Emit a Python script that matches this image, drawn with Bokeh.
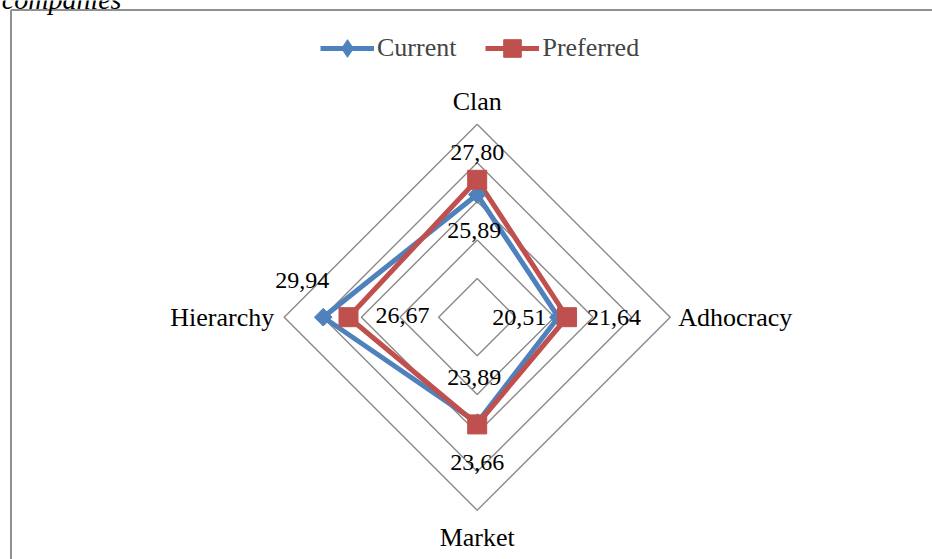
import numpy as np
from bokeh.plotting import figure
from bokeh.models import ColumnDataSource, Legend, LegendItem, Range1d
from bokeh.core.properties import value
from bokeh.embed import file_html
from bokeh.resources import INLINE

# ---- data ----
categories = ["Clan", "Adhocracy", "Market", "Hierarchy"]
current = [25.89, 20.51, 23.66, 29.94]
preferred = [27.80, 21.64, 23.89, 26.67]
axis_min, axis_max, major_unit = 10, 35, 5
caption = "of companies"

# ---- layout / style ----
W, H = 932, 559
S = 7.72                       # pixels per value unit
CX, CY = 476.7, 316.7          # centre, from top-left of the figure
FONT_NAME = "Liberation Serif"
FONT = value(FONT_NAME)
BLUE, RED, GRID = "#4F81BD", "#C0504D", "#8A8A8A"

x0, x1 = -CX / S, (W - CX) / S
y0, y1 = -(H - CY) / S, CY / S
p = figure(width=W, height=H, output_backend="svg", toolbar_location=None,
           x_range=Range1d(x0, x1), y_range=Range1d(y0, y1),
           x_axis_type=None, y_axis_type=None,
           min_border=0, outline_line_color=None)
p.grid.visible = False
p.background_fill_color = "white"
p.border_fill_color = "white"

angles = np.pi / 2 - np.arange(len(categories)) * np.pi / 2


def polar(vals):
    r = np.asarray(vals, dtype=float) - axis_min
    return r * np.cos(angles), r * np.sin(angles)


# chart border (left and top edges visible in the window)
bx, by = (10.5 - CX) / S, (CY - 9.5) / S
p.segment(x0=[bx, bx], y0=[y0 - 10, by], x1=[bx, x1 + 10], y1=[by, by],
          line_color="#909090", line_width=2)

# grid diamonds
for lvl in range(axis_min + major_unit, axis_max + 1, major_unit):
    gx, gy = polar([lvl] * len(categories))
    p.line(list(gx) + [gx[0]], list(gy) + [gy[0]], line_color=GRID, line_width=1.4)

cx, cy = polar(current)
px, py = polar(preferred)

l_cur = p.line(list(cx) + [cx[0]], list(cy) + [cy[0]], line_color=BLUE, line_width=5,
               line_join="miter")
l_pre = p.line(list(px) + [px[0]], list(py) + [py[0]], line_color=RED, line_width=5,
               line_join="miter")
# narrow diamond (used by the legend), covered by the square diamond on the chart
m_cur_leg = p.scatter(cx, cy, marker="diamond", size=15, fill_color=BLUE, line_color=BLUE)
p.scatter(cx, cy, marker="square", angle=np.pi / 4, size=12.5,
          fill_color=BLUE, line_color=BLUE)
m_pre = p.scatter(px, py, marker="square", size=19, fill_color=RED, line_color=RED)

# value labels
fmt = lambda v: f"{v:.2f}".replace(".", ",")
cur_off = [(-3, 36), (-39, 0), (0, 40), (-21, -37)]
pre_off = [(0, -27), (47, 0), (-3, -47), (54, -2)]
lab = ColumnDataSource(dict(
    x=list(cx) + list(px), y=list(cy) + list(py),
    t=[fmt(v) for v in current] + [fmt(v) for v in preferred],
    dx=[o[0] for o in cur_off + pre_off], dy=[o[1] for o in cur_off + pre_off]))
p.text("x", "y", text="t", x_offset="dx", y_offset="dy", source=lab,
       text_align="center", text_baseline="middle", text_font=FONT,
       text_font_size="24px", text_color="black")

# category labels
ox, oy = polar([axis_max] * len(categories))
cat = ColumnDataSource(dict(
    x=list(ox), y=list(oy), t=categories,
    dx=[0, 8, 0, -10], dy=[-23, 0, 27, 0],
    align=["center", "left", "center", "right"]))
p.text("x", "y", text="t", x_offset="dx", y_offset="dy", text_align="align", source=cat,
       text_baseline="middle", text_font=FONT, text_font_size="26px", text_color="black")

# caption above the chart frame (cut off at the top, as in the source)
p.text(x=[(121 - CX) / S], y=[(CY + 1) / S], text=[caption], text_align="right",
       text_baseline="alphabetic", text_font=FONT, text_font_style="italic",
       text_font_size="28px", text_color="black")

legend = Legend(items=[LegendItem(label="Current", renderers=[l_cur, m_cur_leg]),
                       LegendItem(label="Preferred", renderers=[l_pre, m_pre])],
                orientation="horizontal", location=(320, 489),
                glyph_width=54, glyph_height=44, label_height=44, label_standoff=3,
                spacing=29, padding=0, margin=0, border_line_color=None,
                background_fill_alpha=0, label_text_font=FONT_NAME,
                label_text_font_size="26px", label_text_baseline="middle")
p.add_layout(legend)

open("out.html", "w").write(file_html(p, INLINE))
